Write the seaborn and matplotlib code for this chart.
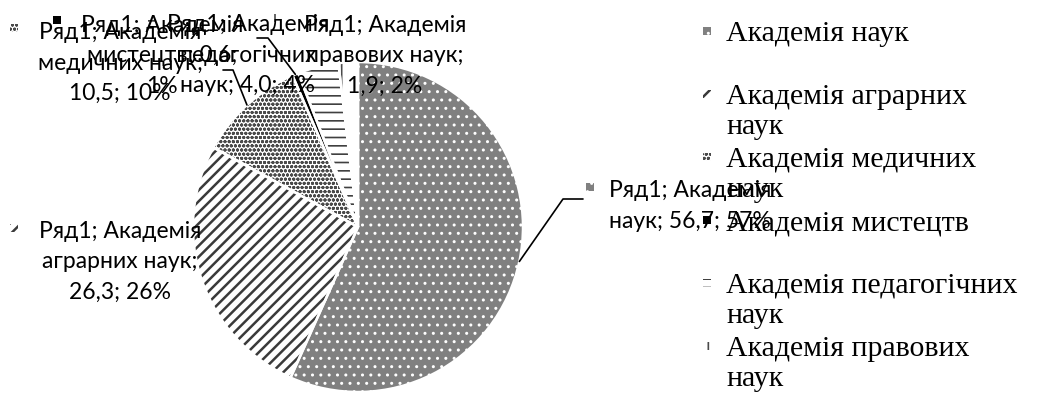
import textwrap

import matplotlib
matplotlib.use("Agg")
import matplotlib.pyplot as plt
import numpy as np
import pandas as pd
import seaborn as sns
from matplotlib.lines import Line2D
from matplotlib.patches import Rectangle

# ---- data -------------------------------------------------------------
series_name = "Ряд1"
academies = [
    "Академія наук",
    "Академія аграрних наук",
    "Академія медичних наук",
    "Академія мистецтв",
    "Академія педагогічних наук",
    "Академія правових наук",
]
shares = [56.7, 26.3, 10.5, 0.6, 4.0, 1.9]

df = pd.DataFrame({"academy": academies, "share": shares})

# ---- styling ----------------------------------------------------------
face_colors = ["#808080", "white", "white", "black", "white", "white"]
hatch_colors = ["white", "#3a3a3a", "#4a4a4a", "black", "#404040", "#4a4a4a"]
hatches = ["..", "///", "oooo", "", "--", "|"]
hatch_widths = [1.0, 1.8, 1.0, 1.0, 1.2, 1.2]

W, H = 1040, 401
CX, CY, R = 358, 227, 165          # pie centre and radius, in pixels

sns.set_theme(style="white")
plt.rcParams["font.family"] = ["Lato", "DejaVu Sans"]
plt.rcParams["hatch.linewidth"] = 1.0

fig = plt.figure(figsize=(W / 100, H / 100), dpi=100)
fig.patch.set_facecolor("white")
ax = fig.add_axes([(CX - R) / W, (H - CY - R) / H, 2 * R / W, 2 * R / H])


def style_patch(p, i):
    p.set_edgecolor(hatch_colors[i])   # edge colour doubles as hatch colour
    p.set_hatch(hatches[i])
    p.set_linewidth(0)
    if hasattr(p, "set_hatch_linewidth"):
        p.set_hatch_linewidth(hatch_widths[i])


# patterned slices
wedges, _ = ax.pie(df["share"], startangle=90, counterclock=False, radius=1,
                   colors=face_colors, wedgeprops=dict(linewidth=0))
for i, w in enumerate(wedges):
    style_patch(w, i)

# white separators between slices
ax.pie(df["share"], startangle=90, counterclock=False, radius=1,
       wedgeprops=dict(linewidth=1.8, edgecolor="white", fill=False))
ax.set_xlim(-1, 1)
ax.set_ylim(-1, 1)
ax.set_axis_off()


def fig_xy(x, y):
    return x / W, 1 - y / H


def key_box(x, y, i, s=8):
    fx, fy = fig_xy(x - s / 2, y + s / 2)
    rect = Rectangle((fx, fy), s / W, s / H, transform=fig.transFigure,
                     facecolor=face_colors[i])
    style_patch(rect, i)
    fig.add_artist(rect)


def fmt(v):
    return f"{v:.1f}".replace(".", ",")


total = sum(shares)
data_labels = [
    textwrap.fill(f"{series_name}; {a}; {fmt(v)}; {round(v * 100 / total)}%", 15)
    for a, v in zip(academies, shares)
]

# label block centres and key positions (pixels)
label_pos = [(690, 206), (120, 262), (120, 63), (162, 56), (248, 55), (385, 56)]
key_pos = [(590, 187), (14, 228), (14, 28), (57, 20), (152, 18), (277, 18)]
leader_elbows = {0: [(583, 199), (563, 199)],
                 2: [(223, 70), (233, 70)],
                 3: [(257, 38), (268, 38)]}

for i, txt in enumerate(data_labels):
    x, y = label_pos[i]
    fig.text(*fig_xy(x, y), txt, ha="center", va="center",
             multialignment="center", fontsize=16.5, linespacing=1.53,
             color="black")
    key_box(*key_pos[i], i)

# leader lines from label to the middle of each slice's arc
to_fig = fig.transFigure.inverted()
for i, pts in leader_elbows.items():
    w = wedges[i]
    theta = np.deg2rad((w.theta1 + w.theta2) / 2)
    anchor = to_fig.transform(ax.transData.transform((np.cos(theta), np.sin(theta))))
    xs = [fig_xy(*p)[0] for p in pts] + [anchor[0]]
    ys = [fig_xy(*p)[1] for p in pts] + [anchor[1]]
    fig.add_artist(Line2D(xs, ys, transform=fig.transFigure, color="black", lw=1.2))

# legend on the right
for i, name in enumerate(academies):
    y = 31 + i * 63
    key_box(707, y, i)
    fig.text(*fig_xy(726, y - 10), textwrap.fill(name, 21), ha="left", va="top",
             family=["Liberation Serif"], fontsize=21.5, linespacing=1.2,
             color="black")

fig.savefig("out.png", dpi=100, facecolor="white")
